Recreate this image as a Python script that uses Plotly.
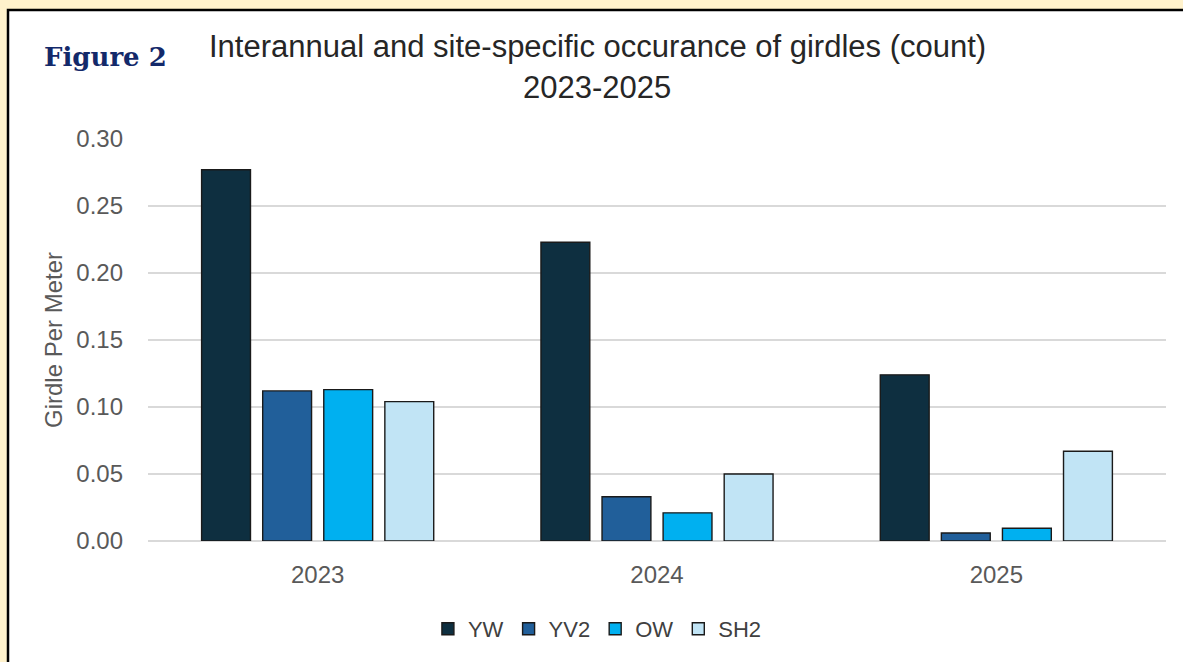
import plotly.graph_objects as go

years = ["2023", "2024", "2025"]
sites = ["YW", "YV2", "OW", "SH2"]
yw = [0.277, 0.223, 0.124]
yv2 = [0.112, 0.033, 0.006]
ow = [0.113, 0.021, 0.0095]
sh2 = [0.104, 0.050, 0.067]
series = [yw, yv2, ow, sh2]
colors = ["#0E2F40", "#215F9A", "#00B0F0", "#C1E4F5"]
y_ticks = [0.0, 0.05, 0.10, 0.15, 0.20, 0.25, 0.30]

W, H = 1183, 662
L, R, T, B = 148, 17, 139, 121
pw, ph = W - L - R, H - T - B

def px(x):
    return (x - L) / pw

def py(y):
    return (H - B - y) / ph

fig = go.Figure()
for name, vals, col in zip(sites, series, colors):
    fig.add_trace(go.Bar(
        x=years, y=vals, name=name,
        marker=dict(color=col, line=dict(color="#1a1a1a", width=1.4)),
    ))

fig.update_layout(
    width=W, height=H,
    margin=dict(l=L, r=R, t=T, b=B),
    paper_bgcolor="#FFF2CC",
    plot_bgcolor="rgba(0,0,0,0)",
    barmode="group",
    bargap=0.28,
    bargroupgap=0.2,
    font=dict(family="Liberation Sans, Arial, sans-serif", color="#595959"),
    showlegend=True,
    legend=dict(
        orientation="h", xref="container", yref="container",
        x=0.505, xanchor="center", y=0.05, yanchor="middle",
        font=dict(size=22, color="#404040"),
        itemwidth=30, tracegroupgap=0, bgcolor="rgba(0,0,0,0)",
    ),
    xaxis=dict(
        showgrid=False, showline=False, ticks="",
        tickfont=dict(size=24, color="#595959"),
        ticklabelstandoff=17,
    ),
    yaxis=dict(
        range=[0, 0.30], tickvals=y_ticks, tickformat=".2f",
        showgrid=True, gridcolor="#D9D9D9", gridwidth=1.5,
        zeroline=True, zerolinecolor="#D9D9D9", zerolinewidth=1.5,
        showline=False, ticks="",
        tickfont=dict(size=24, color="#595959"),
        ticklabelstandoff=24,
        title=dict(text="Girdle Per Meter", font=dict(size=24, color="#595959"), standoff=6),
    ),
    shapes=[dict(
        type="rect", xref="paper", yref="paper", layer="below",
        x0=px(8), x1=px(1200), y0=py(680), y1=py(10),
        fillcolor="white", line=dict(color="black", width=2.5),
    )],
    annotations=[
        dict(text="<b>Figure 2</b>", xref="paper", yref="paper",
             x=px(42), y=py(57), xanchor="left", yanchor="middle", showarrow=False,
             font=dict(family="DejaVu Serif, Georgia, serif", size=26, color="#13296A")),
        dict(text="Interannual and site-specific occurance of girdles (count)",
             xref="paper", yref="paper", x=px(597), y=py(46),
             xanchor="center", yanchor="middle", showarrow=False,
             font=dict(size=31, color="#262626")),
        dict(text="2023-2025", xref="paper", yref="paper", x=px(597), y=py(88),
             xanchor="center", yanchor="middle", showarrow=False,
             font=dict(size=31, color="#262626")),
    ],
)

fig.write_html(
    "out.html",
    config={"displayModeBar": False},
    post_script="document.body.style.margin='0px';document.body.style.background='#FFF2CC';document.documentElement.style.overflow='hidden';",
)
